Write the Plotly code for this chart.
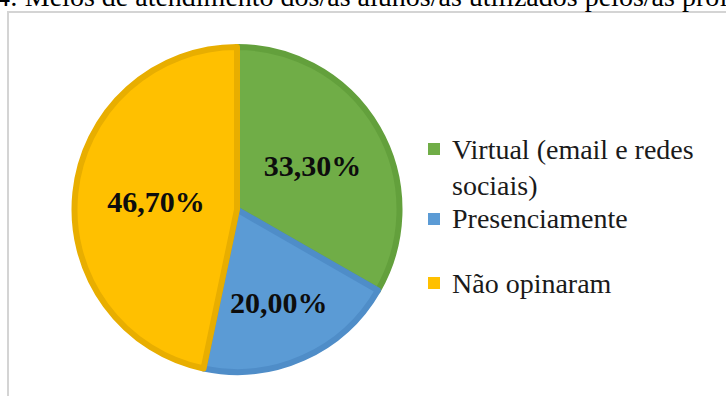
import plotly.graph_objects as go

labels = ["Virtual (email e redes<br>sociais)", "Presenciamente", "Não opinaram"]
values = [33.3, 20.0, 46.7]
fill_colors = ["#70AD47", "#5B9BD5", "#FFC000"]
edge_colors = ["#63A03C", "#4F8DC8", "#E8AE00"]
title_text = "4: Meios de atendimento dos/as alunos/as utilizados pelos/as professores/as"

W, H = 726, 396
SERIF = "Liberation Serif, Times New Roman, serif"

fig = go.Figure()
fig.add_trace(go.Pie(
    labels=labels,
    values=values,
    sort=False,
    direction="clockwise",
    rotation=0,
    marker=dict(colors=fill_colors, line=dict(color=edge_colors, width=6)),
    texttemplate="%{value:.2f}%",
    textposition="inside",
    insidetextorientation="horizontal",
    textfont=dict(family=SERIF, size=30, color="#0d0d0d", weight="bold"),
    domain=dict(x=[74 / W, 400 / W], y=[24 / H, 349 / H]),
    hoverinfo="label+percent",
    showlegend=False,
))

# title (partially cut at the top, as in the source image)
fig.add_annotation(
    text=title_text, xref="paper", yref="paper",
    x=-6 / W, y=1, xanchor="left", yanchor="middle", yshift=4,
    showarrow=False, font=dict(family=SERIF, size=28, color="#000000"),
)

# chart frame
fig.add_shape(type="rect", xref="paper", yref="paper",
              x0=8 / W, x1=1.05, y0=-0.05, y1=1 - 12 / H,
              line=dict(color="#d4d4d4", width=2), fillcolor="rgba(0,0,0,0)", layer="below")

# legend (drawn as text + swatches so the serif font is honoured)
legend_row_px = [167, 219, 283]      # vertical centre of each legend entry (px from top)
swatch_top_px = [143, 213, 277]      # top of each colour swatch (aligned to first text line)
sw_x0, sw_size, text_x = 428, 12, 450
for lab, col, yc, st in zip(labels, fill_colors, legend_row_px, swatch_top_px):
    fig.add_shape(type="rect", xref="paper", yref="paper",
                  x0=sw_x0 / W, x1=(sw_x0 + sw_size) / W,
                  y0=1 - (st + sw_size) / H, y1=1 - st / H,
                  line=dict(width=0), fillcolor=col)
    fig.add_annotation(
        text=lab, xref="paper", yref="paper",
        x=text_x / W, y=1 - yc / H, xanchor="left", yanchor="middle", align="left",
        showarrow=False, font=dict(family=SERIF, size=28, color="#1a1a1a"),
    )

fig.update_layout(
    width=W, height=H,
    margin=dict(l=0, r=0, t=0, b=0),
    paper_bgcolor="white", plot_bgcolor="white",
    font=dict(family=SERIF, size=26, color="#1a1a1a"),
    separators=",.",
    showlegend=False,
)

fig.write_html("out.html")
